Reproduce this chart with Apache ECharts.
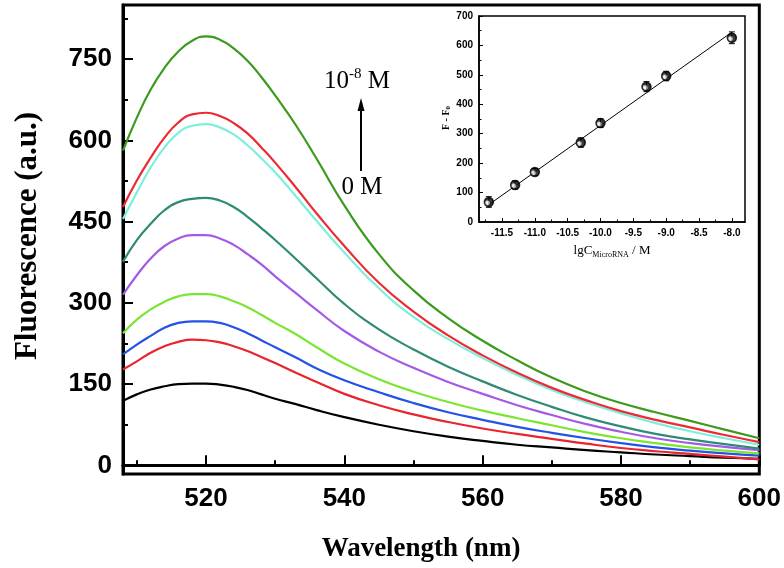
<!DOCTYPE html>
<html>
<head>
<meta charset="utf-8">
<script src="https://cdn.jsdelivr.net/npm/echarts@6/dist/echarts.min.js"></script>
<style>html,body{margin:0;padding:0;background:#fff}#c{width:784px;height:568px}</style>
</head>
<body>
<div id="c"></div>
<script>
// ---- main spectra data ----
const wavelengths = [508,510,512,514,516,518,520,522,524,526,528,530,533,536,540,545,550,555,560,565,570,575,580,585,590,595,600];
const s0M   = [119,131,140,146,150,151,151,149,145,139,131,123,113,102,89,75,63,53,45,38,33,28,24,20,17,14,12];
const s2    = [177,192,208,220,228,232,231,227,220,211,200,189,171,154,132,111,94,80,68,58,49,40,32,26,21,16,11];
const s3    = [205,223,239,254,263,266,266,263,255,244,231,218,199,179,157,135,115,98,84,71,60,50,41,33,27,22,18];
const s4    = [244,269,288,302,312,316,316,312,303,292,278,263,242,218,188,159,136,117,101,87,74,61,50,41,33,27,22];
const s5    = [315,351,382,405,419,425,425,419,407,390,371,349,318,287,248,210,180,154,132,111,93,76,62,50,41,34,28];
const s6    = [376,416,446,471,486,492,494,489,477,459,438,416,381,345,298,251,214,182,155,130,108,88,72,58,48,39,31];
const s7    = [455,504,550,587,614,627,630,624,611,591,567,541,497,451,393,327,274,233,198,167,139,116,96,78,63,50,38];
const s8    = [477,526,568,605,633,648,651,645,632,613,587,559,513,465,405,337,284,240,203,171,143,120,100,84,70,56,43];
const s1e8M = [581,642,694,734,764,784,792,786,770,747,717,683,628,566,480,390,323,272,230,194,162,136,115,98,82,66,50];
const spectra = [s0M, s2, s3, s4, s5, s6, s7, s8, s1e8M];
const spectraColors = ['#000000','#e8242c','#2352e6','#7ae632','#a35be6','#2f8b76','#80eedc','#ec2a34','#3c9a1c'];

const xMajor = [520,540,560,580,600];
const xMinor = [510,530,550,570,590];
const yMajor = [0,150,300,450,600,750];
const yMinor = [75,225,375,525,675,825];

// ---- inset calibration data ----
const lgC   = [-11.7,-11.3,-11.0,-10.3,-10.0,-9.3,-9.0,-8.0];
const dF    = [68,126,170,270,336,460,496,626];
const dFerr = [18,14,12,16,15,17,16,20];
const fitX  = [-11.7,-8.0];
const fitY  = [59,645];
const insetXMajor = [-11.5,-11.0,-10.5,-10.0,-9.5,-9.0,-8.5,-8.0];
const insetXMinor = [-11.75,-11.25,-10.75,-10.25,-9.75,-9.25,-8.75,-8.25];

const chart = echarts.init(document.getElementById('c'), null, {renderer:'canvas'});

const lineSeries = spectra.map((arr, i) => ({
  type:'line', xAxisIndex:0, yAxisIndex:0, showSymbol:false, smooth:0.5,
  data: wavelengths.map((w, j) => [w, arr[j]]),
  lineStyle:{color:spectraColors[i], width:2.2}, itemStyle:{color:spectraColors[i]}, z:3
}));

const sansBold = {fontFamily:'"Liberation Sans", Arial, sans-serif', fontWeight:'bold', color:'#000'};

const option = {
  animation:false,
  backgroundColor:'#fff',
  grid:[
    {left:123, right:23, top:5, bottom:94, show:true, borderColor:'#000', borderWidth:3, backgroundColor:'transparent'},
    {left:479, width:266, top:16, height:206, show:true, borderColor:'#000', borderWidth:1.5, backgroundColor:'#fff'}
  ],
  xAxis:[
    {type:'value', gridIndex:0, min:508, max:600, position:'bottom',
      axisLine:{show:true, lineStyle:{color:'#000', width:3}},
      axisTick:{show:true, inside:true, length:10, lineStyle:{color:'#000', width:2}, customValues:xMajor},
      axisLabel:Object.assign({customValues:xMajor, fontSize:26, margin:12}, sansBold),
      splitLine:{show:false}},
    {type:'value', gridIndex:0, min:508, max:600, position:'bottom',
      axisLine:{show:false},
      axisTick:{show:true, inside:true, length:5, lineStyle:{color:'#000', width:2}, customValues:xMinor},
      axisLabel:{show:false}, splitLine:{show:false}},
    {type:'value', gridIndex:1, min:-11.85, max:-7.8, position:'bottom',
      axisLine:{show:true, lineStyle:{color:'#000', width:1.5}},
      axisTick:{show:true, inside:true, length:4, lineStyle:{color:'#000', width:1}, customValues:insetXMajor},
      axisLabel:Object.assign({customValues:insetXMajor, fontSize:10, margin:6, formatter:v=>v.toFixed(1)}, sansBold),
      splitLine:{show:false}},
    {type:'value', gridIndex:1, min:-11.85, max:-7.8, position:'bottom',
      axisLine:{show:false},
      axisTick:{show:true, inside:true, length:2.5, lineStyle:{color:'#000', width:1}, customValues:insetXMinor},
      axisLabel:{show:false}, splitLine:{show:false}}
  ],
  yAxis:[
    {type:'value', gridIndex:0, min:-16, max:850, position:'left',
      axisLine:{show:true, lineStyle:{color:'#000', width:3}},
      axisTick:{show:true, inside:true, length:10, lineStyle:{color:'#000', width:2}, customValues:yMajor},
      axisLabel:Object.assign({customValues:yMajor, fontSize:26, margin:11}, sansBold),
      splitLine:{show:false}},
    {type:'value', gridIndex:0, min:-16, max:850, position:'left',
      axisLine:{show:false},
      axisTick:{show:true, inside:true, length:5, lineStyle:{color:'#000', width:2}, customValues:yMinor},
      axisLabel:{show:false}, splitLine:{show:false}},
    {type:'value', gridIndex:1, min:0, max:700, interval:100, position:'left',
      axisLine:{show:true, lineStyle:{color:'#000', width:1.5}},
      axisTick:{show:true, inside:true, length:4, lineStyle:{color:'#000', width:1}},
      minorTick:{show:true, splitNumber:2, length:2.5, lineStyle:{color:'#000', width:1}},
      axisLabel:Object.assign({fontSize:10, margin:6}, sansBold),
      splitLine:{show:false}, minorSplitLine:{show:false}}
  ],
  series: lineSeries.concat([
    {type:'line', xAxisIndex:2, yAxisIndex:2, showSymbol:false, data:fitX.map((x,i)=>[x,fitY[i]]),
      lineStyle:{color:'#000', width:1}, z:4},
    {type:'custom', xAxisIndex:2, yAxisIndex:2, z:5,
      data: lgC.map((x,i)=>[x, dF[i], dFerr[i]]),
      renderItem:function(params, api){
        const x = api.value(0), y = api.value(1), e = api.value(2);
        const top = api.coord([x, y+e]), bot = api.coord([x, y-e]);
        const st = {stroke:'#000', lineWidth:1};
        return {type:'group', children:[
          {type:'line', shape:{x1:top[0], y1:top[1], x2:bot[0], y2:bot[1]}, style:st},
          {type:'line', shape:{x1:top[0]-3, y1:top[1], x2:top[0]+3, y2:top[1]}, style:st},
          {type:'line', shape:{x1:bot[0]-3, y1:bot[1], x2:bot[0]+3, y2:bot[1]}, style:st}
        ]};
      }},
    {type:'scatter', xAxisIndex:2, yAxisIndex:2, z:6, symbol:'circle', symbolSize:9,
      data: lgC.map((x,i)=>[x, dF[i]]),
      itemStyle:{color:{type:'radial', x:0.35, y:0.6, r:0.5, colorStops:[{offset:0,color:'#ffffff'},{offset:0.35,color:'#cccccc'},{offset:0.6,color:'#111'},{offset:1,color:'#000'}]}, borderColor:'#000', borderWidth:1.5}}
  ]),
  graphic:[
    {type:'text', x:28, y:236, rotation:Math.PI/2,
      style:{text:'Fluorescence (a.u.)', font:'bold 31px "Liberation Serif", "Times New Roman", serif', fill:'#000', align:'center', verticalAlign:'middle'}},
    {type:'text', x:421, y:549,
      style:{text:'Wavelength (nm)', font:'bold 27px "Liberation Serif", "Times New Roman", serif', fill:'#000', align:'center', verticalAlign:'middle'}},
    {type:'text', x:357, y:80,
      style:{text:'{a|10}{b|-8}{a| M}', align:'center', verticalAlign:'middle',
        rich:{a:{font:'25px "Liberation Serif", serif', fill:'#000', verticalAlign:'bottom'},
              b:{font:'15px "Liberation Serif", serif', fill:'#000', verticalAlign:'top', padding:[0,0,12,0]}}}},
    {type:'text', x:362, y:187,
      style:{text:'0 M', font:'25px "Liberation Serif", serif', fill:'#000', align:'center', verticalAlign:'middle'}},
    {type:'line', shape:{x1:361, y1:171, x2:361, y2:108}, style:{stroke:'#000', lineWidth:2}},
    {type:'polygon', shape:{points:[[361,98],[357.5,111],[364.5,111]]}, style:{fill:'#000'}},
    {type:'text', x:446, y:118, rotation:Math.PI/2,
      style:{text:'F - F{s|0}', align:'center', verticalAlign:'middle',
        rich:{s:{font:'bold 7px "Liberation Serif", serif', fill:'#000', padding:[5,0,0,0]}},
        font:'bold 10px "Liberation Serif", serif', fill:'#000'}},
    {type:'text', x:612, y:251,
      style:{text:'lgC{s|MicroRNA} / M', align:'center', verticalAlign:'middle',
        rich:{s:{font:'8px "Liberation Serif", serif', fill:'#000', padding:[7,0,0,0]}},
        font:'13px "Liberation Serif", serif', fill:'#000'}}
  ]
};
chart.setOption(option);
</script>
</body>
</html>
